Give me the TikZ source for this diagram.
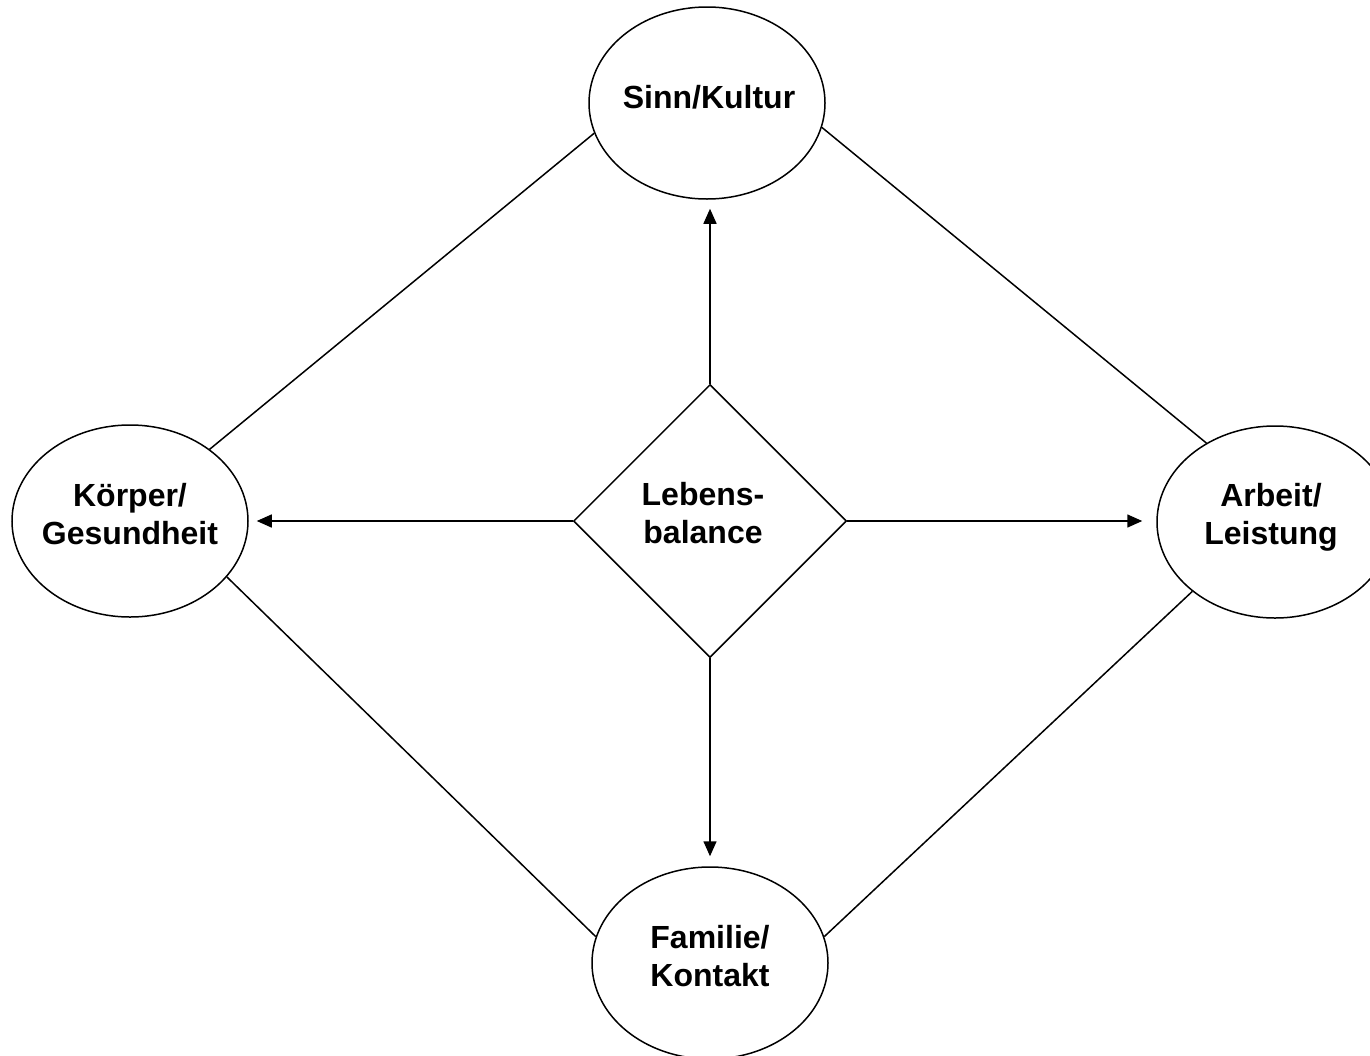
\documentclass[tikz,border=0pt]{standalone}
\usepackage{fontspec}
\setmainfont{Liberation Sans}
\usetikzlibrary{shapes.geometric,arrows.meta}
\tikzset{
  ell/.style={ellipse, draw, line width=1.5pt, minimum width=236pt, minimum height=192pt, inner sep=0pt},
  dia/.style={diamond, draw, line width=1.5pt, minimum width=273pt, minimum height=273pt, inner sep=0pt},
  txt/.style={font=\fontsize{32}{38}\selectfont\bfseries, align=center, inner sep=0pt},
  link/.style={line width=1.5pt},
  arr/.style={line width=1.5pt, -{Triangle[length=15pt,width=13pt]}}
}
\begin{document}
\begin{tikzpicture}[x=1pt,y=-1pt]
\useasboundingbox (0,0) rectangle (1370,1055);
\clip (0,0) rectangle (1370,1055);
\node[ell] (sinn) at (707,103) {};
\node[ell] (koerper) at (130,521) {};
\node[ell] (arbeit) at (1275,522) {};
\node[ell] (familie) at (710,963) {};
\node[dia] (balance) at (710,521) {};
\node[txt] (tsinn) at ([yshift=6pt,xshift=2pt]sinn.center) {Sinn/Kultur};
\node[txt] (tkoerper) at ([yshift=7pt]koerper.center) {Körper/\\Gesundheit};
\node[txt] (tarbeit) at ([yshift=5pt,xshift=-4pt]arbeit.center) {Arbeit/\\Leistung};
\node[txt] (tfamilie) at ([yshift=7pt]familie.center) {Familie/\\Kontakt};
\node[txt] (tbalance) at ([yshift=8pt,xshift=-7pt]balance.center) {Lebens-\\balance};
\draw[link] (sinn.195) -- (koerper.42);
\draw[link] (sinn.348) -- (arbeit.131);
\draw[link] (koerper.330) -- (familie.167);
\draw[link] (arbeit.220) -- (familie.13);
\draw[arr, shorten >=9pt] (balance.north) -- (balance.north |- sinn.south);
\draw[arr, shorten >=8pt] (balance.west) -- (balance.west -| koerper.east);
\draw[arr, shorten >=14pt] (balance.east) -- (balance.east -| arbeit.west);
\draw[arr, shorten >=10pt] (balance.south) -- (balance.south |- familie.north);
\end{tikzpicture}
\end{document}
